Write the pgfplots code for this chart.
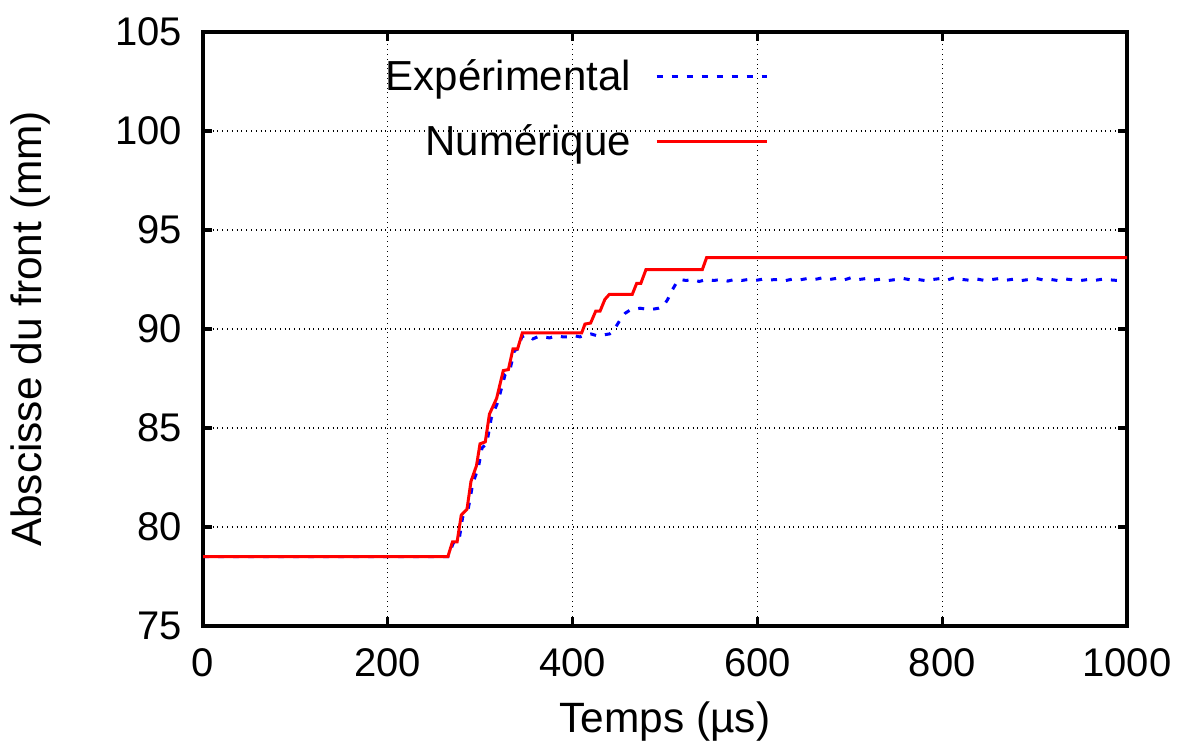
\documentclass[border=0pt]{standalone}
\usepackage{fontspec}
\setmainfont{Liberation Sans}
\usepackage{pgfplots}
\pgfplotsset{compat=1.18}
\pgfplotsset{layers/mylayers/.define layer set={axis background,axis grid,keybox,axis ticks,axis lines,axis tick labels,pre main,main,axis descriptions,axis foreground}{}}
\definecolor{gpblue}{RGB}{0,0,255}
\definecolor{gpred}{RGB}{255,0,0}
\begin{document}
\begin{tikzpicture}
\begin{axis}[
  name=ax,
  set layers=mylayers,
  scale only axis,
  width=462pt, height=297pt,
  xmin=0, xmax=1000, ymin=75, ymax=105,
  xtick={0,200,...,1000}, ytick={75,80,...,105},
  /pgf/number format/assume math mode=true,
  /pgf/number format/1000 sep={},
  font=\fontsize{20}{24}\selectfont,
  grid=major,
  grid style={dotted, black, line width=0.6pt},
  axis line style={line width=2pt, black},
  tick style={line width=1.6pt, black},
  major tick length=4.5pt,
  tick align=inside,
  tick pos=both,
  yticklabel style={xshift=-7pt},
  xticklabel style={yshift=-8pt},
  xlabel={Temps (µs)},
  ylabel={Abscisse du front (mm)},
  label style={font=\fontsize{21.2}{25}\selectfont},
  xlabel style={at={(axis description cs:0.5,-0.1616)}, anchor=center},
  ylabel style={at={(axis description cs:-0.1872,0.5)}, anchor=center},
  legend plot pos=right,
  legend cell align=right,
  legend image code/.code={\draw[#1] (0pt,0pt) -- (55pt,0pt);},
  legend style={at={(axis cs:612,103.85)}, anchor=north east, draw=none, fill=none,
    inner sep=0pt, row sep=11.5pt, column sep=10pt, font=\fontsize{21}{25}\selectfont},
]
\begin{pgfonlayer}{keybox}
\fill[white] (axis cs:26,97.8) rectangle (axis cs:637.5,105);
\end{pgfonlayer}
\addplot[gpblue, line width=1.5pt, dash pattern=on 3pt off 4.5pt] coordinates {
(0,78.5) (265,78.5) (271,79.2) (277,79.3) (281,80.5) (287,80.9) (292,82.2) (298,83.0)
(302,84.0) (307,84.2) (312,85.5) (319,86.3) (327,87.7) (332,87.9) (337,88.9) (341,89.0)
(345,89.6) (350,89.7) (357,89.5) (362,89.6) (368,89.6) (375,89.55) (383,89.65) (390,89.6)
(397,89.6) (403,89.65) (408,89.6) (414,89.7) (420,89.75) (427,89.65) (433,89.7) (440,89.75)
(444,89.9) (448,90.2) (452,90.5) (457,90.8) (462,90.95) (468,91.0) (473,91.05) (480,91.0)
(487,91.0) (493,91.05) (498,91.15) (503,91.5) (507,91.9) (512,92.3) (516,92.5) (523,92.45)
(530,92.5) (537,92.4) (545,92.5) (553,92.45) (560,92.5) (568,92.42) (575,92.5) (583,92.45)
(590,92.5) (598,92.45) (606,92.52) (614,92.48) (622,92.5) (630,92.44) (638,92.52) (646,92.48)
(654,92.55) (662,92.5) (670,92.58) (678,92.5) (686,92.56) (694,92.48) (702,92.6) (710,92.5)
(718,92.55) (726,92.47) (734,92.52) (742,92.45) (750,92.5) (758,92.55) (766,92.48) (774,92.5)
(782,92.44) (790,92.5) (798,92.55) (806,92.48) (814,92.6) (822,92.5) (830,92.46) (838,92.52)
(846,92.45) (854,92.5) (862,92.55) (870,92.47) (878,92.52) (886,92.45) (894,92.5) (902,92.55)
(910,92.47) (918,92.5) (926,92.44) (934,92.52) (942,92.48) (950,92.45) (958,92.5) (966,92.46)
(974,92.52) (982,92.48) (990,92.45)
};
\addlegendentry{Expérimental}
\addplot[gpred, line width=1.5pt] coordinates {
(0,78.5) (265,78.5) (270,79.25) (275,79.25) (279.5,80.6) (285.7,80.9) (290,82.3) (296,83.1)
(299.8,84.2) (305.5,84.3) (310,85.7) (317.8,86.5) (325,87.9) (330.5,87.95) (335.5,89.0)
(340.5,89.0) (345.6,89.8) (409.8,89.8) (413.4,90.25) (419.5,90.3) (425,90.9) (429.7,90.9)
(435,91.5) (439.8,91.75) (464.6,91.75) (469.3,92.3) (473.8,92.3) (479.4,93.0) (540.4,93.0)
(545,93.6) (1000,93.6)
};
\addlegendentry{Numérique}
\end{axis}
\pgfresetboundingbox
\path[use as bounding box] ([shift={(-101.5pt,-63.5pt)}]ax.south west) rectangle ([shift={(31pt,16pt)}]ax.north east);
\end{tikzpicture}
\end{document}
